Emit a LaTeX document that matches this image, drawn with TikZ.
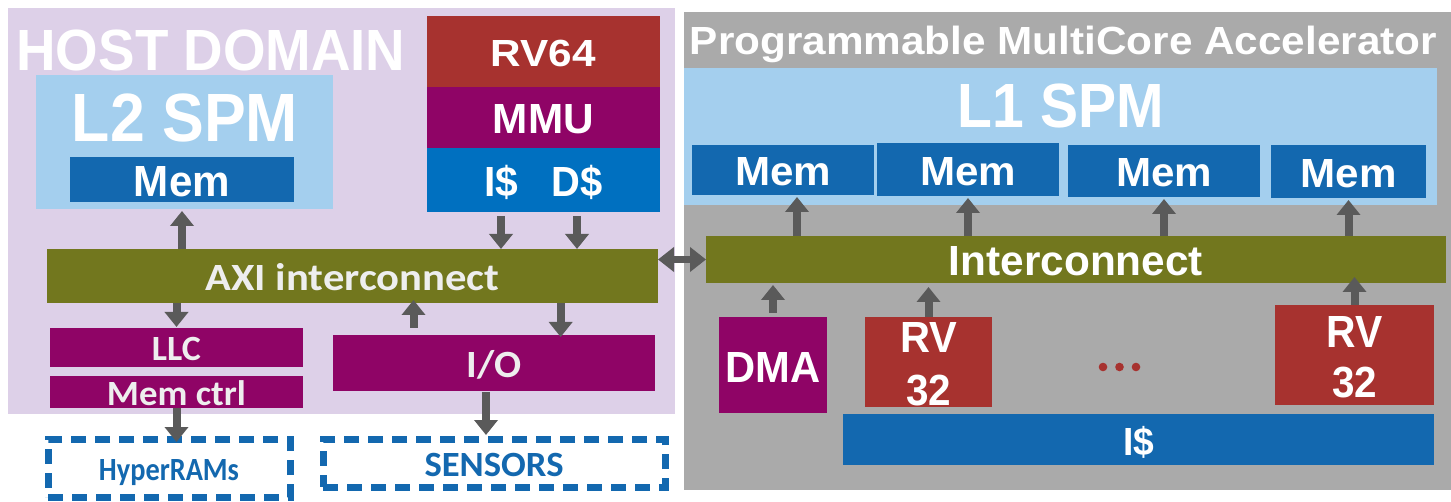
\documentclass[tikz,border=0pt]{standalone}
\usepackage{fontspec}
\setmainfont{Liberation Sans}
\newfontfamily\carl{Carlito}
\usepackage{graphicx}
\usetikzlibrary{arrows.meta,calc}
\definecolor{hostbg}{RGB}{221,208,232}
\definecolor{accbg}{RGB}{170,170,170}
\definecolor{cred}{RGB}{167,50,47}
\definecolor{cpurple}{RGB}{143,4,102}
\definecolor{cacheblue}{RGB}{0,112,192}
\definecolor{memblue}{RGB}{19,104,175}
\definecolor{lblue}{RGB}{164,207,238}
\definecolor{olive}{RGB}{114,119,30}
\definecolor{arrgrey}{RGB}{90,90,90}
\definecolor{ltext}{RGB}{238,238,238}
\newcommand\fitb[3]{\resizebox{#1}{#2}{\smash{#3}\vphantom{H}}\rule{0pt}{\dimexpr#2+4pt\relax}}
\newcommand\fitt[3]{\resizebox{#1}{#2}{\smash{#3}\vphantom{H}}}
\newcommand\mkbox[7]{\pgfmathsetmacro\bxw{#5-#3}\pgfmathsetmacro\bxh{#6-#4}\pgfmathsetmacro\bxx{(#3+#5)/2}\pgfmathsetmacro\bxy{(#4+#6)/2}\node[#1,minimum width=\bxw pt,minimum height=\bxh pt] (#2) at (\bxx,\bxy) {#7};}
\begin{document}
\begin{tikzpicture}[x=1pt,y=-1pt,
  box/.style={inner sep=0pt,outer sep=0pt,draw=none,text=white,font=\bfseries},
  cbox/.style={box,text=ltext,font=\carl\bfseries},
  dbox/.style={box,draw=memblue,line width=7pt,dash pattern=on 15pt off 9pt,fill=white,text=memblue,font=\carl\bfseries},
  title/.style={inner sep=0pt,outer sep=0pt,anchor=base,text=white,font=\bfseries},
  arr/.style={draw=arrgrey,line width=8pt,-{Triangle[width=23pt,length=15pt]}},
  dbl/.style={draw=arrgrey,line width=7pt,{Triangle[width=24pt,length=16pt]}-{Triangle[width=24pt,length=16pt]}}]
\useasboundingbox (0,0) rectangle (1451,502);
% ---------- host domain ----------
\mkbox{box,fill=hostbg}{hostbg}{8}{8}{675}{414}{}
\node[title] (hosttitle) at (211,71) {\fitt{389pt}{40pt}{HOST DOMAIN}};
\mkbox{box,fill=cred}{rv64}{427}{16}{660}{87}{\fitb{105pt}{26pt}{RV64}}
\mkbox{box,fill=cpurple}{mmu}{427}{87}{660}{148}{\fitb{101pt}{29pt}{MMU}}
\mkbox{box,fill=cacheblue}{cache}{427}{148}{660}{212}{}
\node[box] (icd) at (501,180) {\fitb{34pt}{29pt}{I\$}};
\node[box] (dcd) at (577,180) {\fitb{51pt}{29pt}{D\$}};
\mkbox{box,fill=lblue}{l2}{36}{75}{333}{209}{}
\node[title] (l2t) at (185,142) {\fitt{226pt}{47pt}{L2 SPM}};
\mkbox{box,fill=memblue}{l2mem}{70}{157}{294}{202}{\fitb{96pt}{30pt}{Mem}}
\mkbox{cbox,fill=olive}{axi}{47}{249}{658}{303}{\fitb{294pt}{25pt}{AXI interconnect}}
\mkbox{cbox,fill=cpurple}{llc}{50}{328}{303}{367}{\fitb{49pt}{23pt}{LLC}}
\mkbox{cbox,fill=cpurple}{memctrl}{50}{376}{303}{408}{\fitb{139pt}{23pt}{Mem ctrl}}
\mkbox{cbox,fill=cpurple}{io}{333}{335}{655}{391}{\fitb{55pt}{25pt}{I/O}}
\mkbox{dbox}{hyper}{48}{439}{290}{497}{\fitb{140pt}{21pt}{HyperRAMs}}
\mkbox{dbox}{sensors}{323}{439}{665}{487}{\fitb{139pt}{23pt}{SENSORS}}
% ---------- accelerator ----------
\mkbox{box,fill=accbg}{accbg}{684}{12}{1451}{490}{}
\node[title] (acctitle) at (1063.5,55) {\fitt{747pt}{27pt}{Programmable MultiCore Accelerator}};
\mkbox{box,fill=lblue}{l1}{684}{68}{1437}{205}{}
\node[title] (l1t) at (1061,128) {\fitt{206pt}{43pt}{L1 SPM}};
\mkbox{box,fill=memblue}{m1}{692}{145}{874}{195}{\fitb{96pt}{28pt}{Mem}}
\mkbox{box,fill=memblue}{m2}{877}{143}{1059}{196}{\fitb{96pt}{28pt}{Mem}}
\mkbox{box,fill=memblue}{m3}{1068}{145}{1260}{197}{\fitb{96pt}{28pt}{Mem}}
\mkbox{box,fill=memblue}{m4}{1271}{145}{1426}{198}{\fitb{96pt}{28pt}{Mem}}
\mkbox{box,fill=olive}{ic}{706}{236}{1446}{283}{\fitb{254pt}{29pt}{Interconnect}}
\mkbox{box,fill=cpurple}{dma}{719}{317}{827}{413}{\fitb{95pt}{30pt}{DMA}}
\mkbox{box,fill=cred,align=center}{rva}{865}{317}{992}{407}{\fitb{57pt}{30pt}{RV}\\[17pt]\fitb{45pt}{30pt}{32}}
\mkbox{box,fill=cred,align=center}{rvb}{1275}{305}{1434}{405}{\fitb{56pt}{31pt}{RV}\\[15pt]\fitb{45pt}{30pt}{32}}
\mkbox{box,fill=memblue}{icache}{843}{414}{1434}{465}{\fitb{31pt}{27pt}{I\$}}
\foreach \dx in {1103,1119.5,1136} \fill[cred] (\dx,367) circle (4.3);
% ---------- connectors ----------
\draw[arr,shorten >=2pt] (axi.north -| l2mem) -- (l2.south -| l2mem);
\draw[arr,shorten <=4pt] (cache.south -| icd) -- (axi.north -| icd);
\draw[arr,shorten <=4pt] (cache.south -| dcd) -- (axi.north -| dcd);
\draw[arr,shorten >=1pt] (axi.south -| llc) -- (llc.north);
\coordinate (ioup) at ($(io.north west)!0.25!(io.north east)$);
\coordinate (iodn) at ($(io.north west)!0.707!(io.north east)$);
\coordinate (iosn) at ($(io.south)+(-8,0)$);
\draw[arr,shorten <=7pt,shorten >=-3pt] (ioup) -- (axi.south -| ioup);
\draw[arr,shorten >=-2pt] (axi.south -| iodn) -- (iodn);
\draw[arr,shorten <=1pt,shorten >=4pt] (iosn) -- (sensors.north -| iosn);
\draw[arr,shorten >=-3pt] (memctrl.south) -- (hyper.north -| memctrl);
\draw[dbl] (axi.east |- ic.west) -- (ic.west);
\coordinate (m1in) at ($(m1.south)+(14,0)$);
\draw[arr,shorten >=2pt] (ic.north -| m1in) -- (m1in);
\draw[arr,shorten >=2pt] (ic.north -| m2) -- (m2.south);
\draw[arr,shorten >=2pt] (ic.north -| m3) -- (m3.south);
\draw[arr,shorten >=2pt] (ic.north -| m4) -- (m4.south);
\draw[arr,shorten <=4pt,shorten >=2pt] (dma.north) -- (ic.south -| dma);
\draw[arr,shorten >=4pt] (rva.north) -- (ic.south -| rva);
\draw[arr,shorten >=-6pt] (rvb.north) -- (ic.south -| rvb);
\end{tikzpicture}
\end{document}
